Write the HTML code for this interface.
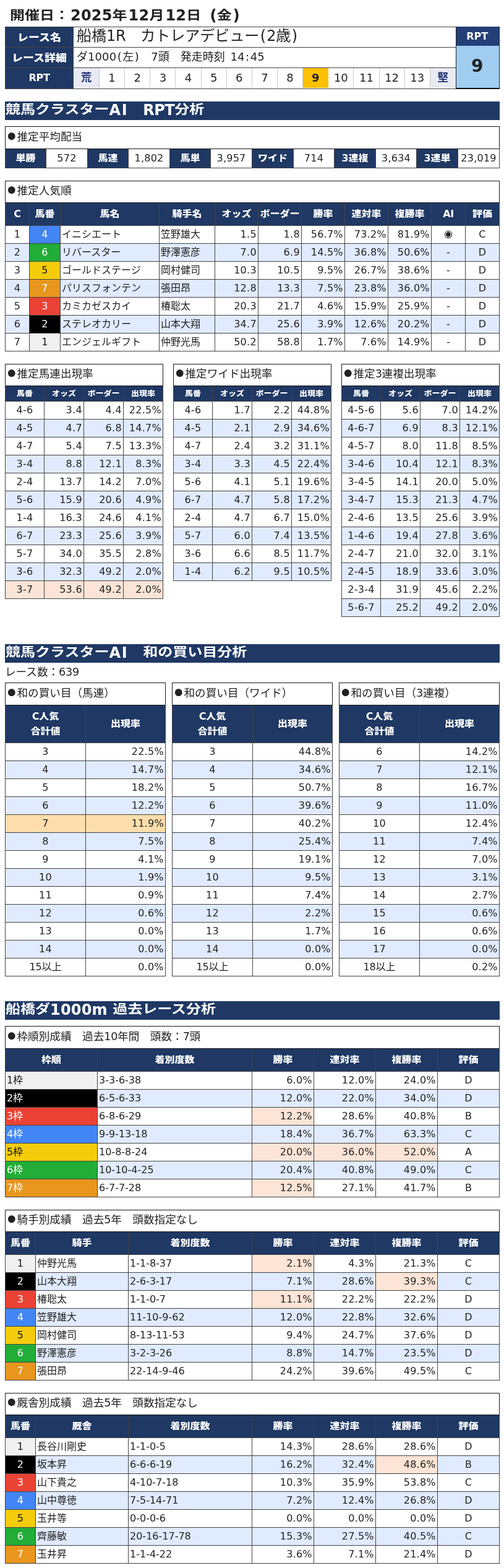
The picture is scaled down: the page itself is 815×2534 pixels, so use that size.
<!DOCTYPE html>
<html lang="ja"><head><meta charset="utf-8"><title>競馬クラスターAI</title>
<style>
*{box-sizing:border-box;}
html,body{margin:0;padding:0;background:#fff;}
body{width:815px;height:2534px;position:relative;overflow:hidden;
 font-family:"DejaVu Sans","Liberation Sans","Noto Sans CJK JP",sans-serif;color:#222;font-size:16px;}
.j{font-family:"Noto Sans CJK JP","Liberation Sans",sans-serif;display:inline-block;width:17.5px;text-align:center;font-size:13px;line-height:16px;vertical-align:2px;}
.a{letter-spacing:-0.3px;}
.k{display:inline-block;transform:scaleY(.88);}
h2 .k{transform:translateY(-0.5px) scaleY(.83);}
h1 .k{transform:scaleY(.85);}
th .k{transform:scaleY(.88);font-weight:900;}
.p{padding:0 .06em;}
.blk{position:absolute;left:8px;}
h1{margin:0;font-size:24px;font-weight:bold;line-height:30px;white-space:nowrap;position:absolute;left:16px;top:10px;}
h1 .a{letter-spacing:0.2px;margin-left:2px;}
h1{word-spacing:4px;}
h1 .p{padding:0;}
h2{margin:0;position:absolute;left:8px;width:800px;height:30px;background:#1f3864;color:#fff;font-size:24px;font-weight:bold;line-height:28px;white-space:nowrap;padding-left:1px;}
h2 .a{letter-spacing:0.2px;}
h2 .ai{letter-spacing:1.6px;}
h2 .rp{letter-spacing:-0.5px;}
table{border-collapse:collapse;table-layout:fixed;border-spacing:0;}
td,th{border:1px solid #444;padding:0;margin:0;font-weight:normal;white-space:nowrap;overflow:hidden;vertical-align:middle;}
th{background:#1f3864;color:#fff;font-weight:bold;text-align:center;font-size:16px;line-height:24px;}
td{font-size:16px;height:29px;line-height:24px;}
td.cap{font-size:17.6px;text-align:left;padding-left:1px;padding-bottom:4px;line-height:28px;background:#fff;border-color:#1a1a1a;}
.c{text-align:center;}
.r{text-align:right;padding-right:2.5px;}
.l{text-align:left;padding-left:2px;}
td.n{letter-spacing:0.25px;}
td.r.n{padding-right:2.2px;}
td.l{padding-bottom:0;}
td.ai{padding-bottom:3px;}
td.l.n{padding-bottom:0;letter-spacing:0;}
tr.alt td{background:#e0ebff;}
tr.hl td{background:#fce4d6;}
tr.hl2 td{background:#ffdead;}
td.pk{background:#fce4d6 !important;}
.w1{background:#f0f0f0 !important;color:#111;}
.w2{background:#000 !important;color:#fff;}
.w3{background:#ea4335 !important;color:#fff;}
.w4{background:#4285f4 !important;color:#fff;}
.w5{background:#f4cc0c !important;color:#111;}
.w6{background:#22ac38 !important;color:#fff;}
.w7{background:#e8961e !important;color:#fff;}
.sm th{font-size:13px;}
.note{position:absolute;left:8px;font-size:17.6px;line-height:20px;white-space:nowrap;}
#top th{font-size:18px;padding-top:2px;}
#top th.rp{padding-top:0;padding-bottom:2px;font-size:16px;}
#top td.nm{font-size:24px;text-align:left;padding-left:5px;padding-bottom:4px;}
#top td.dt{font-size:18px;text-align:left;padding-left:5px;padding-bottom:2px;word-spacing:3px;}
#top td.dt .a{letter-spacing:0.1px;}
#top td.dt .p{padding:0 .08em;}
#rptrow{padding:0;vertical-align:top;}
#rptrow div{float:left;width:41.15px;height:32px;line-height:31px;text-align:center;font-size:18px;border-right:1px solid #c8c8c8;}
#rptrow div:first-child{width:42px;}
#rptrow div.e{background:#e9ebf4;color:#1c2f70;font-weight:bold;font-size:17.6px;line-height:30px;}
#rptrow div.s{background:#ffc000;font-weight:bold;border-right-color:#ffc000;}
#rptrow div:last-child{border-right:0;width:41px;}
#rptbox{position:absolute;left:737px;top:43px;width:71px;height:101px;border:1px solid #222;border-top:0;border-bottom:2px solid #111;background:#a0cdf0;}
#rptbox .h{padding-right:1.5px;height:31px;background:#243f78;color:#fff;font-weight:bold;font-size:16px;text-align:center;line-height:31px;}
#rptbox .v{padding-right:1.5px;height:68px;line-height:65px;text-align:center;font-size:28px;font-weight:bold;color:#222;}
</style></head>
<body>
<h1><span class="k">開催日：</span><span class="a">2025</span><span class="k">年</span><span class="a">12</span><span class="k">月</span><span class="a">12</span><span class="k">日</span> <span class="a"><span class="p">(</span></span><span class="k">金</span><span class="a"><span class="p">)</span></span></h1>
<table id="top" class="blk" style="top:43px;width:730px"><colgroup><col style="width:110px"><col style="width:620px"></colgroup><tr><th style="height:33px"><span class="k">レース名</span></th><td class="nm" style="height:33px">船橋<span class="a">1R</span>　カトレアデビュー<span class="a"><span class="p">(</span>2</span>歳<span class="a"><span class="p">)</span></span></td></tr><tr><th style="height:33px"><span class="k">レース詳細</span></th><td class="dt" style="height:33px">ダ<span class="a">1000<span class="p">(</span></span>左<span class="a"><span class="p">)</span></span>　<span class="a">7</span>頭　発走時刻 <span class="a">14<span class="p">:</span>45</span></td></tr><tr><th class="rp" style="height:34px"><span class="a">RPT</span></th><td id="rptrow" style="height:34px"><div class="e">荒</div><div class="n">1</div><div class="n">2</div><div class="n">3</div><div class="n">4</div><div class="n">5</div><div class="n">6</div><div class="n">7</div><div class="n">8</div><div class="s">9</div><div class="n">10</div><div class="n">11</div><div class="n">12</div><div class="n">13</div><div class="e">堅</div></td></tr></table>
<div id="rptbox"><div class="h">RPT</div><div class="v">9</div></div>
<h2 style="top:164px"><span class="k">競馬クラスター</span><span class="a ai">AI</span><span class="k">　</span><span class="a rp">RPT</span><span class="k">分析</span></h2>
<table class="blk" style="top:204px;width:799px"><colgroup><col style="width:66px"><col style="width:67px"><col style="width:66px"><col style="width:67px"><col style="width:66px"><col style="width:67px"><col style="width:67px"><col style="width:66px"><col style="width:67px"><col style="width:66px"><col style="width:67px"><col style="width:67px"></colgroup><tr><td class="cap" colspan="12" style="height:36px"><span class="j">●</span>推定平均配当</td></tr><tr><th style="height:31px"><span class="k">単勝</span></th><td class="c n" style="height:31px">572</td><th style="height:31px"><span class="k">馬連</span></th><td class="c n" style="height:31px">1,802</td><th style="height:31px"><span class="k">馬単</span></th><td class="c n" style="height:31px">3,957</td><th style="height:31px"><span class="k">ワイド</span></th><td class="c n" style="height:31px">714</td><th style="height:31px"><span class="a">3</span><span class="k">連複</span></th><td class="c n" style="height:31px">3,634</td><th style="height:31px"><span class="a">3</span><span class="k">連単</span></th><td class="c n" style="height:31px">23,019</td></tr></table>
<table class="blk" style="top:292px;width:799px"><colgroup><col style="width:39px"><col style="width:50px"><col style="width:160px"><col style="width:90px"><col style="width:70px"><col style="width:70px"><col style="width:70px"><col style="width:70px"><col style="width:70px"><col style="width:55px"><col style="width:55px"></colgroup><tr><td class="cap" colspan="11" style="height:35px"><span class="j">●</span>推定人気順</td></tr><tr><th style="height:37px"><span class=a>C</span></th><th style="height:37px"><span class="k">馬番</span></th><th style="height:37px"><span class="k">馬名</span></th><th style="height:37px"><span class="k">騎手名</span></th><th style="height:37px"><span class="k">オッズ</span></th><th style="height:37px"><span class="k">ボーダー</span></th><th style="height:37px"><span class="k">勝率</span></th><th style="height:37px"><span class="k">連対率</span></th><th style="height:37px"><span class="k">複勝率</span></th><th style="height:37px"><span class=a>AI</span></th><th style="height:37px"><span class="k">評価</span></th></tr><tr><td class="c n">1</td><td class="c n w4">4</td><td class="l">イニシエート</td><td class="l">笠野雄大</td><td class="r n">1.5</td><td class="r n">1.8</td><td class="r n">56.7%</td><td class="r n">73.2%</td><td class="r n">81.9%</td><td class="c ai">◉</td><td class="c n">C</td></tr><tr class=alt><td class="c n">2</td><td class="c n w6">6</td><td class="l">リバースター</td><td class="l">野澤憲彦</td><td class="r n">7.0</td><td class="r n">6.9</td><td class="r n">14.5%</td><td class="r n">36.8%</td><td class="r n">50.6%</td><td class="c n">-</td><td class="c n">D</td></tr><tr><td class="c n">3</td><td class="c n w5">5</td><td class="l">ゴールドステージ</td><td class="l">岡村健司</td><td class="r n">10.3</td><td class="r n">10.5</td><td class="r n">9.5%</td><td class="r n">26.7%</td><td class="r n">38.6%</td><td class="c n">-</td><td class="c n">D</td></tr><tr class=alt><td class="c n">4</td><td class="c n w7">7</td><td class="l">パリスフォンテン</td><td class="l">張田昂</td><td class="r n">12.8</td><td class="r n">13.3</td><td class="r n">7.5%</td><td class="r n">23.8%</td><td class="r n">36.0%</td><td class="c n">-</td><td class="c n">D</td></tr><tr><td class="c n">5</td><td class="c n w3">3</td><td class="l">カミカゼスカイ</td><td class="l">椿聡太</td><td class="r n">20.3</td><td class="r n">21.7</td><td class="r n">4.6%</td><td class="r n">15.9%</td><td class="r n">25.9%</td><td class="c n">-</td><td class="c n">D</td></tr><tr class=alt><td class="c n">6</td><td class="c n w2">2</td><td class="l">ステレオカリー</td><td class="l">山本大翔</td><td class="r n">34.7</td><td class="r n">25.6</td><td class="r n">3.9%</td><td class="r n">12.6%</td><td class="r n">20.2%</td><td class="c n">-</td><td class="c n">D</td></tr><tr><td class="c n">7</td><td class="c n w1">1</td><td class="l">エンジェルギフト</td><td class="l">仲野光馬</td><td class="r n">50.2</td><td class="r n">58.8</td><td class="r n">1.7%</td><td class="r n">7.6%</td><td class="r n">14.9%</td><td class="c n">-</td><td class="c n">D</td></tr></table>
<table class="blk sm" style="top:588px;left:8px;width:255px"><colgroup><col style="width:63px"><col style="width:64px"><col style="width:64px"><col style="width:64px"></colgroup><tr><td class="cap" colspan="4" style="height:35px"><span class="j">●</span>推定馬連出現率</td></tr><tr><th style="height:25px"><span class="k">馬番</span></th><th style="height:25px"><span class="k">オッズ</span></th><th style="height:25px"><span class="k">ボーダー</span></th><th style="height:25px"><span class="k">出現率</span></th></tr><tr class=""><td class="c n">4-6</td><td class="r n">3.4</td><td class="r n">4.4</td><td class="r n">22.5%</td></tr><tr class="alt"><td class="c n">4-5</td><td class="r n">4.7</td><td class="r n">6.8</td><td class="r n">14.7%</td></tr><tr class=""><td class="c n">4-7</td><td class="r n">5.4</td><td class="r n">7.5</td><td class="r n">13.3%</td></tr><tr class="alt"><td class="c n">3-4</td><td class="r n">8.8</td><td class="r n">12.1</td><td class="r n">8.3%</td></tr><tr class=""><td class="c n">2-4</td><td class="r n">13.7</td><td class="r n">14.2</td><td class="r n">7.0%</td></tr><tr class="alt"><td class="c n">5-6</td><td class="r n">15.9</td><td class="r n">20.6</td><td class="r n">4.9%</td></tr><tr class=""><td class="c n">1-4</td><td class="r n">16.3</td><td class="r n">24.6</td><td class="r n">4.1%</td></tr><tr class="alt"><td class="c n">6-7</td><td class="r n">23.3</td><td class="r n">25.6</td><td class="r n">3.9%</td></tr><tr class=""><td class="c n">5-7</td><td class="r n">34.0</td><td class="r n">35.5</td><td class="r n">2.8%</td></tr><tr class="alt"><td class="c n">3-6</td><td class="r n">32.3</td><td class="r n">49.2</td><td class="r n">2.0%</td></tr><tr class="hl"><td class="c n">3-7</td><td class="r n">53.6</td><td class="r n">49.2</td><td class="r n">2.0%</td></tr></table>
<table class="blk sm" style="top:588px;left:280px;width:255px"><colgroup><col style="width:63px"><col style="width:64px"><col style="width:64px"><col style="width:64px"></colgroup><tr><td class="cap" colspan="4" style="height:35px"><span class="j">●</span>推定ワイド出現率</td></tr><tr><th style="height:25px"><span class="k">馬番</span></th><th style="height:25px"><span class="k">オッズ</span></th><th style="height:25px"><span class="k">ボーダー</span></th><th style="height:25px"><span class="k">出現率</span></th></tr><tr class=""><td class="c n">4-6</td><td class="r n">1.7</td><td class="r n">2.2</td><td class="r n">44.8%</td></tr><tr class="alt"><td class="c n">4-5</td><td class="r n">2.1</td><td class="r n">2.9</td><td class="r n">34.6%</td></tr><tr class=""><td class="c n">4-7</td><td class="r n">2.4</td><td class="r n">3.2</td><td class="r n">31.1%</td></tr><tr class="alt"><td class="c n">3-4</td><td class="r n">3.3</td><td class="r n">4.5</td><td class="r n">22.4%</td></tr><tr class=""><td class="c n">5-6</td><td class="r n">4.1</td><td class="r n">5.1</td><td class="r n">19.6%</td></tr><tr class="alt"><td class="c n">6-7</td><td class="r n">4.7</td><td class="r n">5.8</td><td class="r n">17.2%</td></tr><tr class=""><td class="c n">2-4</td><td class="r n">4.7</td><td class="r n">6.7</td><td class="r n">15.0%</td></tr><tr class="alt"><td class="c n">5-7</td><td class="r n">6.0</td><td class="r n">7.4</td><td class="r n">13.5%</td></tr><tr class=""><td class="c n">3-6</td><td class="r n">6.6</td><td class="r n">8.5</td><td class="r n">11.7%</td></tr><tr class="alt"><td class="c n">1-4</td><td class="r n">6.2</td><td class="r n">9.5</td><td class="r n">10.5%</td></tr></table>
<table class="blk sm" style="top:588px;left:552px;width:255px"><colgroup><col style="width:63px"><col style="width:64px"><col style="width:64px"><col style="width:64px"></colgroup><tr><td class="cap" colspan="4" style="height:35px"><span class="j">●</span>推定<span class="a">3</span>連複出現率</td></tr><tr><th style="height:25px"><span class="k">馬番</span></th><th style="height:25px"><span class="k">オッズ</span></th><th style="height:25px"><span class="k">ボーダー</span></th><th style="height:25px"><span class="k">出現率</span></th></tr><tr class=""><td class="c n">4-5-6</td><td class="r n">5.6</td><td class="r n">7.0</td><td class="r n">14.2%</td></tr><tr class="alt"><td class="c n">4-6-7</td><td class="r n">6.9</td><td class="r n">8.3</td><td class="r n">12.1%</td></tr><tr class=""><td class="c n">4-5-7</td><td class="r n">8.0</td><td class="r n">11.8</td><td class="r n">8.5%</td></tr><tr class="alt"><td class="c n">3-4-6</td><td class="r n">10.4</td><td class="r n">12.1</td><td class="r n">8.3%</td></tr><tr class=""><td class="c n">3-4-5</td><td class="r n">14.1</td><td class="r n">20.0</td><td class="r n">5.0%</td></tr><tr class="alt"><td class="c n">3-4-7</td><td class="r n">15.3</td><td class="r n">21.3</td><td class="r n">4.7%</td></tr><tr class=""><td class="c n">2-4-6</td><td class="r n">13.5</td><td class="r n">25.6</td><td class="r n">3.9%</td></tr><tr class="alt"><td class="c n">1-4-6</td><td class="r n">19.4</td><td class="r n">27.8</td><td class="r n">3.6%</td></tr><tr class=""><td class="c n">2-4-7</td><td class="r n">21.0</td><td class="r n">32.0</td><td class="r n">3.1%</td></tr><tr class="alt"><td class="c n">2-4-5</td><td class="r n">18.9</td><td class="r n">33.6</td><td class="r n">3.0%</td></tr><tr class=""><td class="c n">2-3-4</td><td class="r n">31.9</td><td class="r n">45.6</td><td class="r n">2.2%</td></tr><tr class="alt"><td class="c n">5-6-7</td><td class="r n">25.2</td><td class="r n">49.2</td><td class="r n">2.0%</td></tr></table>
<h2 style="top:1041px"><span class="k">競馬クラスター</span><span class="a ai">AI</span><span class="k">　和の買い目分析</span></h2>
<div class="note" style="top:1076px">レース数：<span class="a">639</span></div>
<table class="blk" style="top:1103px;left:8px;width:259px"><colgroup><col style="width:130px"><col style="width:129px"></colgroup><tr><td class="cap" colspan="2" style="height:36px"><span class="j">●</span>和の買い目（馬連）</td></tr><tr><th style="height:61px"><span class="a">C</span><span class="k">人気</span><br><span class="k">合計値</span></th><th><span class="k">出現率</span></th></tr><tr class=""><td class="c n">3</td><td class="r n">22.5%</td></tr><tr class="alt"><td class="c n">4</td><td class="r n">14.7%</td></tr><tr class=""><td class="c n">5</td><td class="r n">18.2%</td></tr><tr class="alt"><td class="c n">6</td><td class="r n">12.2%</td></tr><tr class="hl2"><td class="c n">7</td><td class="r n">11.9%</td></tr><tr class="alt"><td class="c n">8</td><td class="r n">7.5%</td></tr><tr class=""><td class="c n">9</td><td class="r n">4.1%</td></tr><tr class="alt"><td class="c n">10</td><td class="r n">1.9%</td></tr><tr class=""><td class="c n">11</td><td class="r n">0.9%</td></tr><tr class="alt"><td class="c n">12</td><td class="r n">0.6%</td></tr><tr class=""><td class="c n">13</td><td class="r n">0.0%</td></tr><tr class="alt"><td class="c n">14</td><td class="r n">0.0%</td></tr><tr class=""><td class="c"><span class="a">15</span>以上</td><td class="r n">0.0%</td></tr></table>
<table class="blk" style="top:1103px;left:278px;width:259px"><colgroup><col style="width:130px"><col style="width:129px"></colgroup><tr><td class="cap" colspan="2" style="height:36px"><span class="j">●</span>和の買い目（ワイド）</td></tr><tr><th style="height:61px"><span class="a">C</span><span class="k">人気</span><br><span class="k">合計値</span></th><th><span class="k">出現率</span></th></tr><tr class=""><td class="c n">3</td><td class="r n">44.8%</td></tr><tr class="alt"><td class="c n">4</td><td class="r n">34.6%</td></tr><tr class=""><td class="c n">5</td><td class="r n">50.7%</td></tr><tr class="alt"><td class="c n">6</td><td class="r n">39.6%</td></tr><tr class=""><td class="c n">7</td><td class="r n">40.2%</td></tr><tr class="alt"><td class="c n">8</td><td class="r n">25.4%</td></tr><tr class=""><td class="c n">9</td><td class="r n">19.1%</td></tr><tr class="alt"><td class="c n">10</td><td class="r n">9.5%</td></tr><tr class=""><td class="c n">11</td><td class="r n">7.4%</td></tr><tr class="alt"><td class="c n">12</td><td class="r n">2.2%</td></tr><tr class=""><td class="c n">13</td><td class="r n">1.7%</td></tr><tr class="alt"><td class="c n">14</td><td class="r n">0.0%</td></tr><tr class=""><td class="c"><span class="a">15</span>以上</td><td class="r n">0.0%</td></tr></table>
<table class="blk" style="top:1103px;left:548px;width:259px"><colgroup><col style="width:130px"><col style="width:129px"></colgroup><tr><td class="cap" colspan="2" style="height:36px"><span class="j">●</span>和の買い目（<span class="a">3</span>連複）</td></tr><tr><th style="height:61px"><span class="a">C</span><span class="k">人気</span><br><span class="k">合計値</span></th><th><span class="k">出現率</span></th></tr><tr class=""><td class="c n">6</td><td class="r n">14.2%</td></tr><tr class="alt"><td class="c n">7</td><td class="r n">12.1%</td></tr><tr class=""><td class="c n">8</td><td class="r n">16.7%</td></tr><tr class="alt"><td class="c n">9</td><td class="r n">11.0%</td></tr><tr class=""><td class="c n">10</td><td class="r n">12.4%</td></tr><tr class="alt"><td class="c n">11</td><td class="r n">7.4%</td></tr><tr class=""><td class="c n">12</td><td class="r n">7.0%</td></tr><tr class="alt"><td class="c n">13</td><td class="r n">3.1%</td></tr><tr class=""><td class="c n">14</td><td class="r n">2.7%</td></tr><tr class="alt"><td class="c n">15</td><td class="r n">0.6%</td></tr><tr class=""><td class="c n">16</td><td class="r n">0.6%</td></tr><tr class="alt"><td class="c n">17</td><td class="r n">0.0%</td></tr><tr class=""><td class="c"><span class="a">18</span>以上</td><td class="r n">0.2%</td></tr></table>
<h2 style="top:1618px"><span class="k">船橋ダ</span><span class="a">1000m</span> <span class="k">過去レース分析</span></h2>
<table class="blk" style="top:1658px;width:799px"><colgroup><col style="width:149px"><col style="width:250px"><col style="width:100px"><col style="width:100px"><col style="width:100px"><col style="width:100px"></colgroup><tr><td class="cap" colspan="6" style="height:36px"><span class="j">●</span>枠順別成績　過去<span class="a">10</span>年間　頭数：<span class="a">7</span>頭</td></tr><tr><th style="height:37px"><span class="k">枠順</span></th><th style="height:37px"><span class="k">着別度数</span></th><th style="height:37px"><span class="k">勝率</span></th><th style="height:37px"><span class="k">連対率</span></th><th style="height:37px"><span class="k">複勝率</span></th><th style="height:37px"><span class="k">評価</span></th></tr><tr class=""><td class="l w1"><span class="a">1</span>枠</td><td class="l n">3-3-6-38</td><td class="r n">6.0%</td><td class="r n">12.0%</td><td class="r n">24.0%</td><td class="c n">D</td></tr><tr class="alt"><td class="l w2"><span class="a">2</span>枠</td><td class="l n">6-5-6-33</td><td class="r n">12.0%</td><td class="r n">22.0%</td><td class="r n">34.0%</td><td class="c n">D</td></tr><tr class=""><td class="l w3"><span class="a">3</span>枠</td><td class="l n">6-8-6-29</td><td class="r n pk">12.2%</td><td class="r n">28.6%</td><td class="r n">40.8%</td><td class="c n">B</td></tr><tr class="alt"><td class="l w4"><span class="a">4</span>枠</td><td class="l n">9-9-13-18</td><td class="r n">18.4%</td><td class="r n">36.7%</td><td class="r n">63.3%</td><td class="c n">C</td></tr><tr class=""><td class="l w5"><span class="a">5</span>枠</td><td class="l n">10-8-8-24</td><td class="r n pk">20.0%</td><td class="r n pk">36.0%</td><td class="r n pk">52.0%</td><td class="c n">A</td></tr><tr class="alt"><td class="l w6"><span class="a">6</span>枠</td><td class="l n">10-10-4-25</td><td class="r n">20.4%</td><td class="r n">40.8%</td><td class="r n">49.0%</td><td class="c n">C</td></tr><tr class=""><td class="l w7"><span class="a">7</span>枠</td><td class="l n">6-7-7-28</td><td class="r n pk">12.5%</td><td class="r n">27.1%</td><td class="r n">41.7%</td><td class="c n">B</td></tr></table>
<table class="blk" style="top:1955px;width:799px"><colgroup><col style="width:49px"><col style="width:150px"><col style="width:200px"><col style="width:100px"><col style="width:100px"><col style="width:100px"><col style="width:100px"></colgroup><tr><td class="cap" colspan="7" style="height:35px"><span class="j">●</span>騎手別成績　過去<span class="a">5</span>年　頭数指定なし</td></tr><tr><th style="height:37px"><span class="k">馬番</span></th><th style="height:37px"><span class="k">騎手</span></th><th style="height:37px"><span class="k">着別度数</span></th><th style="height:37px"><span class="k">勝率</span></th><th style="height:37px"><span class="k">連対率</span></th><th style="height:37px"><span class="k">複勝率</span></th><th style="height:37px"><span class="k">評価</span></th></tr><tr class=""><td class="c n w1">1</td><td class="l">仲野光馬</td><td class="l n">1-1-8-37</td><td class="r n pk">2.1%</td><td class="r n">4.3%</td><td class="r n">21.3%</td><td class="c n">C</td></tr><tr class="alt"><td class="c n w2">2</td><td class="l">山本大翔</td><td class="l n">2-6-3-17</td><td class="r n">7.1%</td><td class="r n">28.6%</td><td class="r n pk">39.3%</td><td class="c n">C</td></tr><tr class=""><td class="c n w3">3</td><td class="l">椿聡太</td><td class="l n">1-1-0-7</td><td class="r n pk">11.1%</td><td class="r n">22.2%</td><td class="r n">22.2%</td><td class="c n">D</td></tr><tr class="alt"><td class="c n w4">4</td><td class="l">笠野雄大</td><td class="l n">11-10-9-62</td><td class="r n">12.0%</td><td class="r n">22.8%</td><td class="r n">32.6%</td><td class="c n">D</td></tr><tr class=""><td class="c n w5">5</td><td class="l">岡村健司</td><td class="l n">8-13-11-53</td><td class="r n">9.4%</td><td class="r n">24.7%</td><td class="r n">37.6%</td><td class="c n">D</td></tr><tr class="alt"><td class="c n w6">6</td><td class="l">野澤憲彦</td><td class="l n">3-2-3-26</td><td class="r n">8.8%</td><td class="r n">14.7%</td><td class="r n">23.5%</td><td class="c n">D</td></tr><tr class=""><td class="c n w7">7</td><td class="l">張田昂</td><td class="l n">22-14-9-46</td><td class="r n">24.2%</td><td class="r n">39.6%</td><td class="r n">49.5%</td><td class="c n">C</td></tr></table>
<table class="blk" style="top:2251px;width:799px"><colgroup><col style="width:49px"><col style="width:150px"><col style="width:200px"><col style="width:100px"><col style="width:100px"><col style="width:100px"><col style="width:100px"></colgroup><tr><td class="cap" colspan="7" style="height:35px"><span class="j">●</span>厩舎別成績　過去<span class="a">5</span>年　頭数指定なし</td></tr><tr><th style="height:37px"><span class="k">馬番</span></th><th style="height:37px"><span class="k">厩舎</span></th><th style="height:37px"><span class="k">着別度数</span></th><th style="height:37px"><span class="k">勝率</span></th><th style="height:37px"><span class="k">連対率</span></th><th style="height:37px"><span class="k">複勝率</span></th><th style="height:37px"><span class="k">評価</span></th></tr><tr class=""><td class="c n w1">1</td><td class="l">長谷川剛史</td><td class="l n">1-1-0-5</td><td class="r n">14.3%</td><td class="r n">28.6%</td><td class="r n">28.6%</td><td class="c n">D</td></tr><tr class="alt"><td class="c n w2">2</td><td class="l">坂本昇</td><td class="l n">6-6-6-19</td><td class="r n">16.2%</td><td class="r n">32.4%</td><td class="r n pk">48.6%</td><td class="c n">B</td></tr><tr class=""><td class="c n w3">3</td><td class="l">山下貴之</td><td class="l n">4-10-7-18</td><td class="r n">10.3%</td><td class="r n">35.9%</td><td class="r n">53.8%</td><td class="c n">C</td></tr><tr class="alt"><td class="c n w4">4</td><td class="l">山中尊徳</td><td class="l n">7-5-14-71</td><td class="r n">7.2%</td><td class="r n">12.4%</td><td class="r n">26.8%</td><td class="c n">D</td></tr><tr class=""><td class="c n w5">5</td><td class="l">玉井等</td><td class="l n">0-0-0-6</td><td class="r n">0.0%</td><td class="r n">0.0%</td><td class="r n">0.0%</td><td class="c n">D</td></tr><tr class="alt"><td class="c n w6">6</td><td class="l">齊藤敏</td><td class="l n">20-16-17-78</td><td class="r n">15.3%</td><td class="r n">27.5%</td><td class="r n">40.5%</td><td class="c n">C</td></tr><tr class=""><td class="c n w7">7</td><td class="l">玉井昇</td><td class="l n">1-1-4-22</td><td class="r n">3.6%</td><td class="r n">7.1%</td><td class="r n">21.4%</td><td class="c n">D</td></tr></table>
</body></html>
